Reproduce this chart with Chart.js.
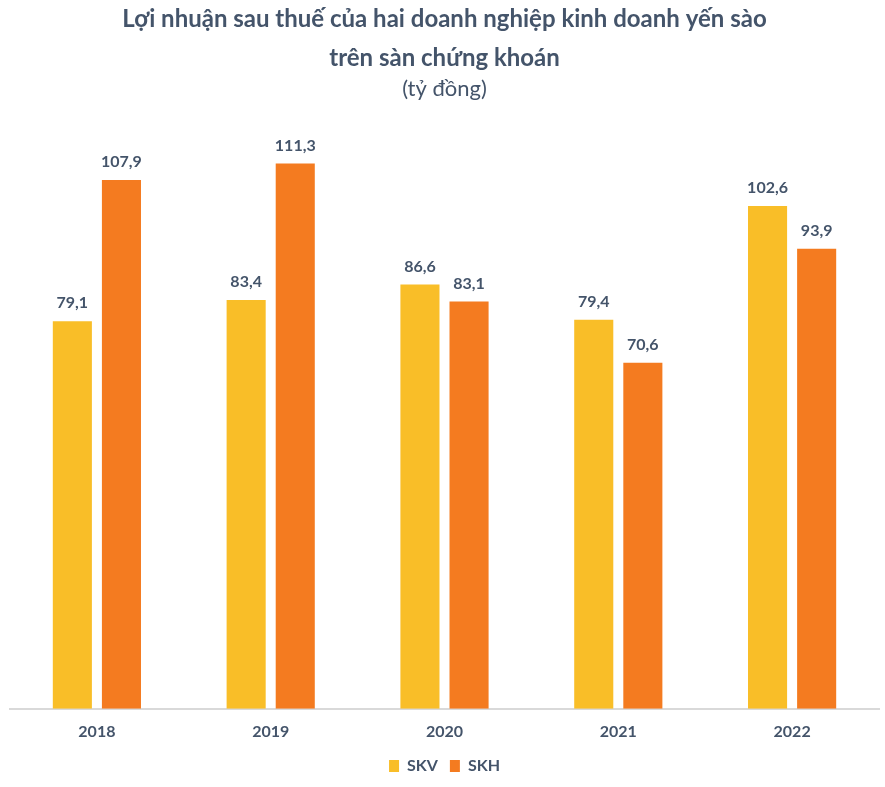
<!DOCTYPE html>
<html>
<head>
<meta charset="utf-8">
<script src="https://cdn.jsdelivr.net/npm/chart.js@4.4.0/dist/chart.umd.min.js"></script>
<style>
  html, body { margin: 0; padding: 0; background: #fff; }
  #wrap { width: 885px; height: 787px; position: relative; }
</style>
</head>
<body>
<div id="wrap"><canvas id="c"></canvas></div>
<script>
// số liệu
const years = ['2018', '2019', '2020', '2021', '2022'];
const skv = [79.1, 83.4, 86.6, 79.4, 102.6];
const skh = [107.9, 111.3, 83.1, 70.6, 93.9];

const textColor = '#44546A';
const font = "Lato, 'Open Sans', sans-serif";

// nhãn giá trị trên đầu cột
const valueLabels = {
    id: 'valueLabels',
    afterDatasetsDraw(chart) {
        const ctx = chart.ctx;
        ctx.save();
        ctx.font = `bold 16px ${font}`;
        ctx.fillStyle = textColor;
        ctx.textAlign = 'center';
        ctx.textBaseline = 'bottom';
        chart.data.datasets.forEach((ds, i) => {
            chart.getDatasetMeta(i).data.forEach((bar, j) => {
                const txt = ds.data[j].toFixed(1).replace('.', ',');
                ctx.fillText(txt, bar.x, bar.y - 10);
            });
        });
        ctx.restore();
    }
};

new Chart(document.getElementById('c'), {
    type: 'bar',
    data: {
        labels: years,
        datasets: [
            { label: 'SKV', data: skv, backgroundColor: '#F9BE28' },
            { label: 'SKH', data: skh, backgroundColor: '#F47B20' }
        ]
    },
    options: {
        responsive: true,
        maintainAspectRatio: false,
        animation: false,
        categoryPercentage: 0.565,
        barPercentage: 0.796,
        layout: { padding: { left: 10, right: 6, top: 0, bottom: 3 } },
        scales: {
            x: {
                grid: { display: false },
                border: { display: true, color: '#D9D9D9', width: 2 },
                ticks: { color: textColor, font: { family: font, size: 16, weight: 'bold' }, padding: 5 }
            },
            y: { display: false, min: 0, max: 120 }
        },
        plugins: {
            title: {
                display: true,
                text: ['Lợi nhuận sau thuế của hai doanh nghiệp kinh doanh yến sào', 'trên sàn chứng khoán'],
                color: textColor,
                font: { family: font, size: 24, weight: 'bold', lineHeight: 1.62 },
                padding: { top: 0, bottom: 0 }
            },
            subtitle: {
                display: true,
                text: '(tỷ đồng)',
                color: textColor,
                font: { family: font, size: 22, weight: 'normal', lineHeight: 1.0 },
                padding: { top: 0, bottom: 21 }
            },
            legend: {
                position: 'bottom',
                labels: {
                    color: textColor,
                    font: { family: font, size: 16, weight: 'bold' },
                    boxWidth: 10, boxHeight: 12, padding: 12
                }
            },
            tooltip: { enabled: false }
        }
    },
    plugins: [valueLabels]
});
</script>
</body>
</html>
